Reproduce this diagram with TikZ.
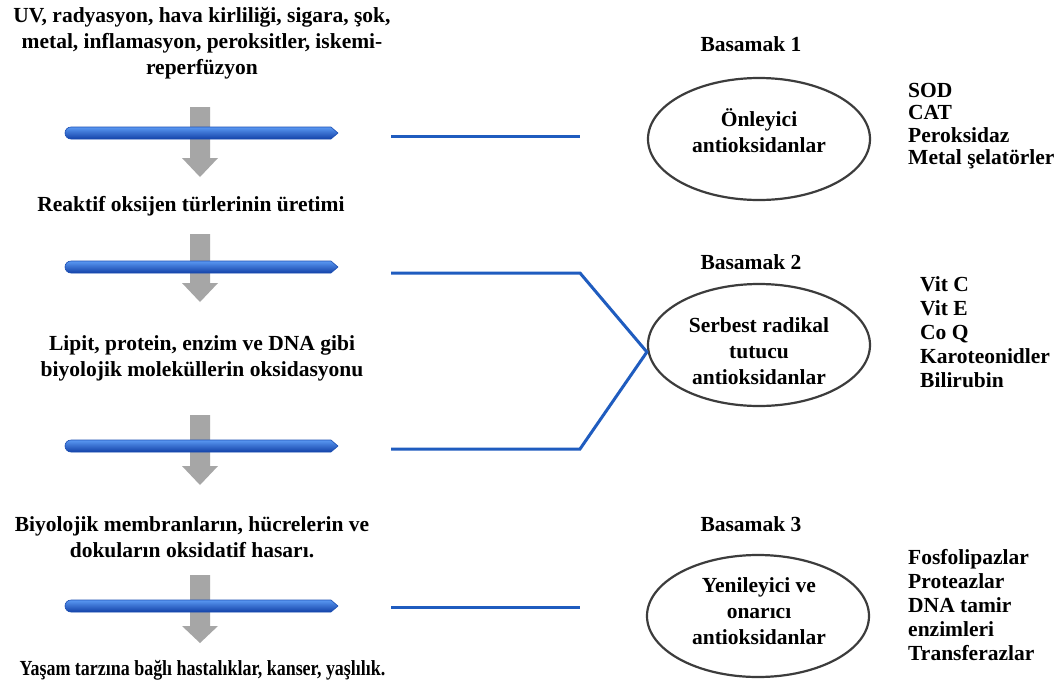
\documentclass[tikz,border=0pt]{standalone}
\usepackage{fontspec}
\usepackage{graphicx}
\setmainfont{Liberation Serif}
\usetikzlibrary{shapes.geometric}
\definecolor{barT}{HTML}{5A98F2}
\definecolor{barM}{HTML}{2065E0}
\definecolor{barB}{HTML}{1342A8}
\definecolor{barE}{HTML}{1A4DB2}
\definecolor{grayA}{HTML}{A6A6A6}
\definecolor{connC}{HTML}{1F5CBF}
\definecolor{ellC}{HTML}{3C3C3C}
\newcommand\flowbar[1]{%
  \shade[top color=barT, middle color=barM, bottom color=barB, draw=barE, line width=0.6pt]
    (71,#1-6) -- (331,#1-6) -- (338,#1) -- (331,#1+6) -- (71,#1+6)
    arc[start angle=90, end angle=270, radius=6] -- cycle;}
\newcommand\flowdown[3]{%
  \fill[grayA] (190,#1) -- (210,#1) -- (210,#2) -- (218,#2) -- (200,#3) -- (182,#2) -- (190,#2) -- cycle;}
\begin{document}
\begin{tikzpicture}[x=1pt,y=-1pt,
  txt/.style={inner sep=0pt, align=center, font=\fontsize{21.5}{26}\selectfont\bfseries},
  listA/.style={inner sep=0pt, align=left, anchor=west, font=\fontsize{21.5}{22.3}\selectfont\bfseries},
  listB/.style={inner sep=0pt, align=left, anchor=west, font=\fontsize{21.5}{24}\selectfont\bfseries},
  ellbox/.style={ellipse, draw=ellC, line width=2.2pt, minimum width=222pt, minimum height=122pt, inner sep=0pt},
  conn/.style={draw=connC, line width=3pt, line join=miter}]
\useasboundingbox (0,0) rectangle (1061,689);
\fill[white] (0,0) rectangle (1061,689);

% left flow texts
\node[txt] (t1) at (202,43) {UV, radyasyon, hava kirliliği, sigara, şok,\\metal, inflamasyon, peroksitler, iskemi-\\reperfüzyon};
\node[txt] (t2) at (191,206) {Reaktif oksijen türlerinin üretimi};
\node[txt] (t3) at (202,358) {Lipit, protein, enzim ve DNA gibi\\biyolojik moleküllerin oksidasyonu};
\node[txt] (t4) at (192,537) {Biyolojik membranların, hücrelerin ve\\dokuların oksidatif hasarı.};
\node[txt] (t5) at (202.5,670) {\scalebox{0.835}[1]{Yaşam tarzına bağlı hastalıklar, kanser, yaşlılık.}};

% gray down arrows
\flowdown{107}{158}{177}
\flowdown{234}{283}{302}
\flowdown{415}{466}{485}
\flowdown{575}{626}{643}

% blue bars
\flowbar{133}
\flowbar{267}
\flowbar{446}
\flowbar{606}

% ellipses
\node[ellbox] (e1) at (759,139) {};
\node[txt] (e1t) at (759,131) {Önleyici\\antioksidanlar};
\node[ellbox] (e2) at (759,345) {};
\node[txt] (e2t) at (759,351) {Serbest radikal\\tutucu\\antioksidanlar};
\node[ellbox] (e3) at (758,616) {};
\node[txt] (e3t) at (759,611) {Yenileyici ve\\onarıcı\\antioksidanlar};

% step labels
\node[txt] (s1) at (751,44) {Basamak 1};
\node[txt] (s2) at (751,262) {Basamak 2};
\node[txt] (s3) at (751,524) {Basamak 3};

% lists
\node[listA] (l1) at (908,126) {SOD\\CAT\\Peroksidaz\\Metal şelatörler};
\node[listB] (l2) at (920,332.5) {Vit C\\Vit E\\Co Q\\Karoteonidler\\Bilirubin};
\node[listB] (l3) at (908,605) {Fosfolipazlar\\Proteazlar\\DNA tamir\\enzimleri\\Transferazlar};

% connectors
\coordinate (a1) at (391,136);
\coordinate (b1) at (580,136);
\coordinate (a2) at (391,273);
\coordinate (b2) at (580,273);
\coordinate (a3) at (391,449);
\coordinate (b3) at (580,449);
\coordinate (a4) at (391,607);
\coordinate (b4) at (580,607);
\coordinate (m2) at ([yshift=-7pt]e2.west);
\draw[conn] (a1) -- (b1);
\draw[conn] (a2) -- (b2) -- (m2) -- (b3) -- (a3);
\draw[conn] (a4) -- (b4);
\end{tikzpicture}
\end{document}
